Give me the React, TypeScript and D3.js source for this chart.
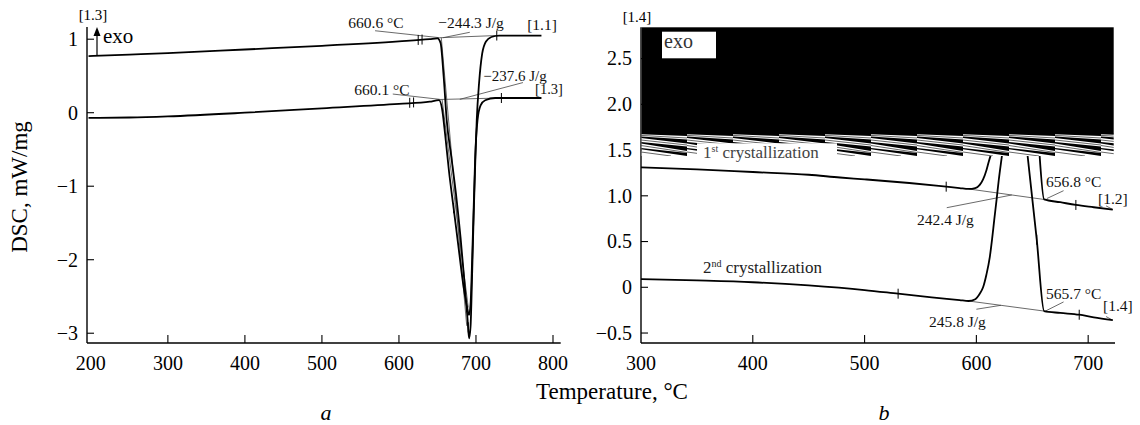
import React from "react";
import * as d3 from "d3";

// ---------- axis ticks ----------
const leftXTicks = [200, 300, 400, 500, 600, 700, 800];
const leftYTicks = [1, 0, -1, -2, -3];
const leftYTickLabels = ["1", "0", "−1", "−2", "−3"];
const rightXTicks = [300, 400, 500, 600, 700];
const rightYTicks = [2.5, 2.0, 1.5, 1.0, 0.5, 0, -0.5];
const rightYTickLabels = ["2.5", "2.0", "1.5", "1.0", "0.5", "0", "−0.5"];

// ---------- panel a: heating curves (T °C, DSC mW/mg) ----------
const heat11: [number, number][] = [
  [197, 0.77], [250, 0.79], [300, 0.81], [400, 0.86], [500, 0.91], [600, 0.97], [640, 1.0],
  [650, 1.01], [654, 0.95], [658, 0.5], [662, -0.1], [668, -0.6], [674, -1.1], [680, -1.7],
  [685, -2.3], [689, -2.8], [691, -3.07], [693, -2.9], [695, -2.2], [697, -1.4], [699, -0.7],
  [701, -0.1], [704, 0.4], [708, 0.8], [713, 0.97], [720, 1.03], [730, 1.05], [760, 1.05], [785, 1.05],
];
const heat13: [number, number][] = [
  [197, -0.07], [250, -0.065], [300, -0.05], [400, 0.0], [500, 0.06], [600, 0.12], [640, 0.15],
  [652, 0.17], [656, 0.05], [660, -0.3], [665, -0.8], [671, -1.3], [677, -1.8], [683, -2.3],
  [688, -2.62], [691, -2.75], [693, -2.6], [695, -2.0], [697, -1.3], [699, -0.6], [702, -0.1],
  [706, 0.1], [712, 0.17], [725, 0.2], [760, 0.2], [785, 0.2],
];
const marks11: [number, number][] = [[625, 0.99], [630, 0.995], [727, 1.05], [690, -2.92]];
const marks13: [number, number][] = [[614, 0.135], [619, 0.14], [733, 0.2], [671, -1.3]];

// ---------- panel b: cooling curves ----------
const cool12: ([number, number] | null)[] = [
  [300, 1.31], [350, 1.29], [400, 1.26], [450, 1.23], [478, 1.2], [500, 1.18], [540, 1.14],
  [573, 1.1], [585, 1.085], [593, 1.075], [599, 1.085], [603, 1.12], [606, 1.18], [609, 1.28],
  [611, 1.37], [613, 1.45], null,
  [656.5, 1.45], [660.6, 0.96], [675, 0.93], [689, 0.9], [705, 0.875], [722, 0.85],
];
const cool14: ([number, number] | null)[] = [
  [300, 0.09], [350, 0.075], [400, 0.055], [450, 0.02], [500, -0.03], [530, -0.07], [560, -0.11],
  [585, -0.14], [593, -0.15], [599, -0.13], [603, -0.07], [606, 0.0], [609, 0.14], [612, 0.33],
  [614, 0.52], [616, 0.74], [618, 0.95], [620, 1.17], [622, 1.36], [623, 1.45], null,
  [645.7, 1.45], [654, 0.52], [660.6, -0.26], [675, -0.28], [692, -0.3], [705, -0.33], [722, -0.36],
];
const marks12: [number, number][] = [[573, 1.1], [689, 0.9]];
const marks14: [number, number][] = [[530, -0.07], [654, 0.52], [692, -0.3]];

// thin construction / leader lines [[T1,v1],[T2,v2]]
const leftThin: [number, number][][] = [
  [[569, 1.115], [653, 1.02]],
  [[657, 1.02], [692, 1.094]],
  [[653, 1.02], [727, 1.05]],
  [[655, 1.02], [688, -2.9]],
  [[592, 0.254], [653, 0.182]],
  [[761, 0.41], [679, 0.182]],
  [[653, 0.18], [733, 0.2]],
  [[656, 0.18], [690, -2.65]],
];
const rightThin: [number, number][][] = [
  [[593, 1.075], [660.6, 0.96]],
  [[573.5, 0.87], [631.7, 1.009]],
  [[663, 0.97], [678, 1.056]],
  [[593, -0.15], [660.6, -0.26]],
  [[600, -0.24], [622, -0.197]],
  [[660.6, -0.267], [678, -0.16]],
  [[722, 0.85], [716, 0.89]],
  [[722, -0.36], [716, -0.32]],
];

const FONT = "'Liberation Serif', 'Times New Roman', serif";

const xL = d3.scaleLinear().domain([195, 810]).range([87, 560.7]);
const yL = d3.scaleLinear().domain([-3.133, 1.166]).range([343, 27]);
const xR = d3.scaleLinear().domain([300, 724]).range([641, 1115]);
const yR = d3.scaleLinear().domain([-0.609, 2.842]).range([343, 27.3]);

function Axes({ x, y, xt, yt, ytl }: any) {
  const [r0, r1] = x.range();
  const [b, t] = y.range();
  return (
    <g>
      <line x1={r0} x2={r0} y1={t} y2={b} stroke="#000" strokeWidth={1.4} />
      <line x1={r0} x2={r1} y1={b} y2={b} stroke="#000" strokeWidth={1.4} />
      {yt.map((v: number, i: number) => (
        <g key={"y" + i}>
          <line x1={r0} x2={r0 + 7} y1={y(v)} y2={y(v)} stroke="#000" strokeWidth={1.1} />
          <text x={r0 - 9} y={y(v)} dy="0.34em" textAnchor="end" fontSize={20} fontFamily={FONT}>
            {ytl[i]}
          </text>
        </g>
      ))}
      {xt.map((v: number) => (
        <g key={"x" + v}>
          {x(v) - r0 > 6 && (
            <line x1={x(v)} x2={x(v)} y1={b} y2={b - 8} stroke="#000" strokeWidth={1.1} />
          )}
          <text x={x(v)} y={370} textAnchor="middle" fontSize={20} fontFamily={FONT}>
            {v}
          </text>
        </g>
      ))}
    </g>
  );
}

export default function App() {
  const lineL = d3.line<[number, number]>().x((d) => xL(d[0])).y((d) => yL(d[1])).curve(d3.curveMonotoneX);
  const lineR = d3
    .line<[number, number] | null>()
    .defined((d) => d !== null)
    .x((d) => xR((d as [number, number])[0]))
    .y((d) => yR((d as [number, number])[1]))
    .curve(d3.curveMonotoneX);
  const cross = (xs: any, ys: any, m: [number, number][], k: string) =>
    m.map((d, i) => (
      <line key={k + i} x1={xs(d[0])} x2={xs(d[0])} y1={ys(d[1]) - 5} y2={ys(d[1]) + 5} stroke="#000" strokeWidth={1} />
    ));
  const thin = (xs: any, ys: any, arr: [number, number][][], k: string) =>
    arr.map((s, i) => (
      <line key={k + i} x1={xs(s[0][0])} y1={ys(s[0][1])} x2={xs(s[1][0])} y2={ys(s[1][1])} stroke="#444" strokeWidth={0.8} />
    ));
  const ann = { fontFamily: FONT, fontSize: 15.5, fill: "#111" } as any;

  return (
    <svg width={1140} height={425} style={{ position: "absolute", left: 0, top: 0, background: "#fff" }}>
      <defs>
        <pattern id="hatch" patternUnits="userSpaceOnUse" x={641} y={133} width={46} height={23}>
          <rect width={46} height={23} fill="#fff" />
          <polygon points="0,0 46,0 46,3 0,1.2" fill="#000" />
          <line x1={0} y1={2.4} x2={46} y2={5} stroke="#000" strokeWidth={0.6} />
          <polygon points="0,3.6 46,6.5 46,10.5 0,5" fill="#000" />
          <line x1={0} y1={7} x2={46} y2={12} stroke="#000" strokeWidth={0.6} />
          <polygon points="0,9 46,13.5 46,18 0,10.5" fill="#000" />
          <line x1={0} y1={12.5} x2={46} y2={19.5} stroke="#000" strokeWidth={0.6} />
          <polygon points="0,15 46,20 46,23 0,16.2" fill="#000" />
          <line x1={0} y1={19} x2={30} y2={23} stroke="#000" strokeWidth={0.6} />
        </pattern>
      </defs>
      <rect width={1140} height={425} fill="#fff" />

      {/* ---------- panel a ---------- */}
      <Axes x={xL} y={yL} xt={leftXTicks} yt={leftYTicks} ytl={leftYTickLabels} />
      {thin(xL, yL, leftThin, "lt")}
      <path d={lineL(heat11) || ""} fill="none" stroke="#000" strokeWidth={1.8} />
      <path d={lineL(heat13) || ""} fill="none" stroke="#000" strokeWidth={1.8} />
      {cross(xL, yL, marks11, "m11")}
      {cross(xL, yL, marks13, "m13")}
      <text x={93} y={20} textAnchor="middle" fontSize={15} fontFamily={FONT}>[1.3]</text>
      <line x1={97} x2={97} y1={yL(0.77)} y2={34} stroke="#000" strokeWidth={1.2} />
      <polygon points="97,27 93.5,36 100.5,36" fill="#000" />
      <text x={103} y={43} fontSize={21} fontFamily={FONT}>exo</text>
      <text x={376} y={28} textAnchor="middle" {...ann}>660.6 °C</text>
      <text x={471} y={28} textAnchor="middle" {...ann}>−244.3 J/g</text>
      <text x={542} y={30} textAnchor="middle" {...ann}>[1.1]</text>
      <text x={515} y={81} textAnchor="middle" {...ann} fontSize={15}>−237.6 J/g</text>
      <text x={382} y={95} textAnchor="middle" {...ann}>660.1 °C</text>
      <text x={549} y={94} textAnchor="middle" {...ann} fontSize={14.5}>[1.3]</text>

      {/* ---------- panel b ---------- */}
      <Axes x={xR} y={yR} xt={rightXTicks} yt={rightYTicks} ytl={rightYTickLabels} />
      {thin(xR, yR, rightThin, "rt")}
      <path d={lineR(cool12) || ""} fill="none" stroke="#000" strokeWidth={1.8} />
      <path d={lineR(cool14) || ""} fill="none" stroke="#000" strokeWidth={1.8} />
      {cross(xR, yR, marks12, "m12")}
      {cross(xR, yR, marks14, "m14")}
      <rect x={641.7} y={27.3} width={472} height={106} fill="#000" />
      <rect x={641.7} y={133} width={472} height={23} fill="url(#hatch)" />
      <rect x={662} y={31.7} width={54} height={26.6} fill="#fff" />
      <text x={664} y={48} fontSize={20} fontFamily={FONT} fill="#333">exo</text>
      <rect x={697} y={143.3} width={140} height={18.4} fill="#fff" />
      <text x={703} y={158} fontSize={17} fontFamily={FONT} fill="#444">
        1<tspan fontSize={10} dy={-6}>st</tspan><tspan dy={6}> crystallization</tspan>
      </text>
      <text x={703} y={273} fontSize={17} fontFamily={FONT} fill="#222">
        2<tspan fontSize={10} dy={-6}>nd</tspan><tspan dy={6}> crystallization</tspan>
      </text>
      <text x={637} y={22} textAnchor="middle" fontSize={15} fontFamily={FONT}>[1.4]</text>
      <text x={917} y={225} {...ann}>242.4 J/g</text>
      <text x={1046} y={187} {...ann}>656.8 °C</text>
      <text x={1098} y={204} {...ann}>[1.2]</text>
      <text x={1046} y={299} {...ann}>565.7 °C</text>
      <text x={1103} y={311} {...ann}>[1.4]</text>
      <text x={929} y={327} {...ann}>245.8 J/g</text>

      {/* ---------- shared labels ---------- */}
      <text transform="translate(27,187) rotate(-90)" textAnchor="middle" fontSize={23} fontFamily={FONT}>
        DSC, mW/mg
      </text>
      <text x={612} y={399} textAnchor="middle" fontSize={23} fontFamily={FONT}>Temperature, °C</text>
      <text x={326} y={420} textAnchor="middle" fontSize={22} fontStyle="italic" fontFamily={FONT}>a</text>
      <text x={884} y={420} textAnchor="middle" fontSize={22} fontStyle="italic" fontFamily={FONT}>b</text>
    </svg>
  );
}
